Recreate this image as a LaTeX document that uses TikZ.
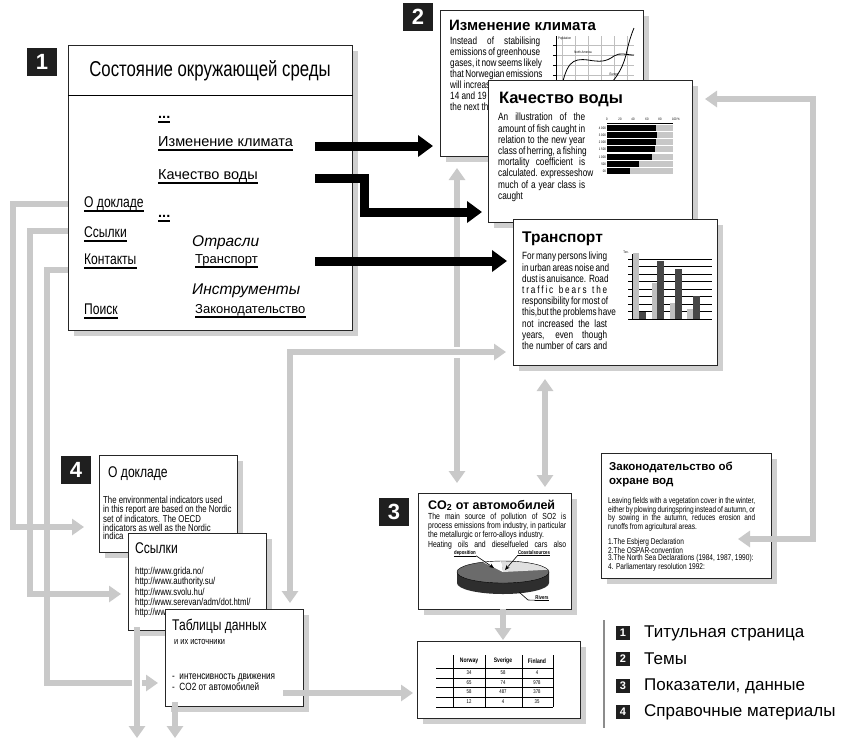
\documentclass[tikz,border=0pt]{standalone}
\usepackage{fontspec}
\setmainfont{Liberation Sans}
\newfontfamily\cnd{Liberation Sans}[FakeStretch=0.78]
\usetikzlibrary{arrows.meta,shadows}
\definecolor{gline}{HTML}{C9C9C9}
\definecolor{shd}{HTML}{CFCFCF}
\newlength\jw
\newcommand\jl[1]{\makebox[\jw][s]{#1}}
\newcommand\fs[2]{\fontsize{#1}{#2}\selectfont}
\newcommand\undl[1]{\draw[line width=1.8pt] ([yshift=-4pt]#1.base west) -- ([yshift=-4pt]#1.base east);}
\tikzset{
  pg/.style={draw=black!85, line width=0.9pt, fill=white, anchor=north west, inner sep=0pt,
     drop shadow={shadow xshift=6pt, shadow yshift=-6pt, fill=shd, opacity=1, draw=none}},
  num/.style={fill=black!88, text=white, font=\bfseries\fs{22}{22}, minimum width=30pt, minimum height=28pt, inner sep=0pt},
  lnum/.style={fill=black!88, text=white, font=\bfseries\fs{11}{11}, minimum width=14pt, minimum height=14pt, inner sep=0pt},
  gl/.style={draw=gline, line width=6.5pt},
  ga/.style={gl, -{Triangle[width=16pt,length=12pt]}},
  gaa/.style={gl, {Triangle[width=16pt,length=12pt]}-{Triangle[width=16pt,length=12pt]}},
  ba/.style={draw=black, line width=9pt, -{Triangle[width=21pt,length=15pt]}},
  tx/.style={anchor=north west, inner sep=0pt, align=left},
  it/.style={anchor=base west, inner sep=0pt},
  small/.style={inner sep=0pt, font=\cnd\fs{3.5}{3.5}},
}
\begin{document}
\begin{tikzpicture}[x=1pt,y=-1pt]
\useasboundingbox (0,0) rectangle (846,740);
\fill[white] (0,0) rectangle (846,740);

% ===== number squares
\node[num] (n1) at (42,62) {1};
\node[num] (n2) at (418,17) {2};
\node[num] (n3) at (394,512) {3};
\node[num] (n4) at (76,470) {4};

% ===== box 1
\node[pg, minimum width=284pt, minimum height=285pt] (b1) at (68,45) {};
\draw[line width=0.8pt] (b1.west |- 0,95) -- (b1.east |- 0,95);
\node[inner sep=0pt, font=\cnd\fs{21.5}{21.5}] (t1) at (210,71) {Состояние окружающей среды};
\node[it,font=\bfseries\fs{14.5}{15}] (m0) at (158,118) {...};
\node[it,font=\fs{14.5}{15}] (m1) at (158,146) {Изменение климата};
\node[it,font=\fs{14.5}{15}] (m2) at (158,179) {Качество воды};
\node[it,font=\cnd\fs{15.5}{15}] (m3) at (84,207) {О докладе};
\node[it,font=\bfseries\fs{14.5}{15}] (m4) at (158,217) {...};
\node[it,font=\cnd\fs{15.5}{15}] (m5) at (84,237) {Ссылки};
\node[it,font=\itshape\fs{15.5}{16}] (m6) at (192,246) {Отрасли};
\node[it,font=\cnd\fs{15.5}{15}] (m7) at (84,264) {Контакты};
\node[it,font=\fs{13}{13}] (m8) at (195,263) {Транспорт};
\node[it,font=\itshape\fs{15.5}{16}] (m9) at (192,294) {Инструменты};
\node[it,font=\cnd\fs{15.5}{15}] (m10) at (84,314) {Поиск};
\node[it,font=\fs{13}{13}] (m11) at (195,313) {Законодательство};
\undl{m0}\undl{m1}\undl{m2}\undl{m3}\undl{m4}\undl{m5}\undl{m7}\undl{m8}\undl{m10}\undl{m11}

% ===== climate box
\node[pg, minimum width=203pt, minimum height=146pt] (b2c) at (440,10) {};
\node[it, font=\bfseries\fs{15}{15}] (t2c) at (449,30) {Изменение климата};
\setlength\jw{90pt}
\node[tx, font=\cnd\fs{10.5}{10.9}] (x2c) at (450,37) {\jl{Instead of stabilising}\\\jl{emissions of greenhouse}\\\jl{gases, it now seems likely}\\\jl{that Norwegian emissions}\\will increas\\14 and 19 p\\the next thr};
\foreach \xx in {562,575,588,601,614,627} \draw[black!25, line width=0.4pt] (\xx,36) -- (\xx,95);
\foreach \yy in {45,55,65,75,85} \draw[black!25, line width=0.4pt] (556,\yy) -- (634,\yy);
\draw[line width=0.7pt] (556,36) -- (556,95);
\foreach \yy in {45,55,65,75,85} \draw[line width=0.4pt] (553,\yy) -- (556,\yy);
\node[small, anchor=north west] (ch1) at (558,37) {Population};
\draw[line width=0.8pt] (560,95) .. controls (566,62) and (572,58) .. (588,60) .. controls (600,62) and (606,62) .. (614,56) .. controls (620,52) and (626,55) .. (634,55);
\draw[line width=0.8pt] (598,95) .. controls (615,82) and (622,70) .. (626,55) .. controls (628,45) and (631,35) .. (634,28);
\node[small] (ch2) at (583,52) {North America};
\node[small] (ch3) at (614,75) {Europe};

% ===== water box
\node[pg, minimum width=204pt, minimum height=142pt] (b2w) at (488,80) {};
\node[it, font=\bfseries\fs{16.5}{16.5}] (t2w) at (499,103) {Качество воды};
\setlength\jw{87pt}
\node[tx, font=\cnd\fs{10.6}{11.2}] (x2w) at (498,113) {\jl{An illustration of the}\\\jl{amount of fish caught in}\\\jl{relation to the new year}\\\jl{class of herring, a fishing}\\\jl{mortality coefficient is}\\\jl{calculated. expresseshow}\\\jl{much of a year class is}\\caught};
\foreach \yy/\xe in {128/656,135/657,142/656,149/655,157/652,164/639,171/630} {
  \fill[black!22] (607,\yy-2.6) rectangle (673,\yy+2.6);
  \fill[black] (607,\yy-2.6) rectangle (\xe,\yy+2.6);
}
\draw[line width=0.7pt] (607,123) -- (673,123);
\foreach \xx/\lb in {607/0,620/20,633/40,647/60,660/80} \node[small] at (\xx,119) {\lb};
\node[small] (pc1) at (676,119) {100 \%};
\foreach \yy/\lb in {128/4 000,135/3 000,142/2 000,149/1 500,157/1 000,164/500,171/00} \node[small, anchor=east] at (606,\yy) {\lb};

% ===== transport box
\node[pg, minimum width=204pt, minimum height=146pt] (b2t) at (513,219) {};
\node[it, font=\bfseries\fs{15.5}{15.5}] (t2t) at (522,242) {Транспорт};
\setlength\jw{85pt}
\node[tx, font=\cnd\fs{10.5}{11.2}] (x2t) at (522,252) {\jl{For many persons living}\\\jl{in urban areas noise and}\\\jl{dust is anuisance. Road}\\\jl{t r a f f i c \ \ b e a r s \ \ t h e}\\\jl{responsibility for most of}\\\jl{this,but the problems have}\\\jl{not increased the last}\\\jl{years, even though}\\\jl{the number of cars and}};
\foreach \yy in {259,266.5,274,281.5,289,296.5,304,311.5,319} {
  \draw[line width=0.5pt] (632,\yy) -- (712,\yy);
  \draw[line width=0.4pt] (628,\yy) -- (632,\yy);
}
\fill[black!25] (633,253) rectangle (639,319);
\fill[black!72] (639,312) rectangle (646,319);
\fill[black!25] (652,283) rectangle (657,319);
\fill[black!72] (657,261) rectangle (664,319);
\fill[black!25] (670,303) rectangle (675,319);
\fill[black!72] (675,269) rectangle (682,319);
\fill[black!25] (687,309) rectangle (693,319);
\fill[black!72] (693,296) rectangle (700,319);
\draw[line width=0.8pt] (632,254) -- (632,320);
\node[small] (tn) at (626,252) {Ton.};

% ===== CO2 box
\node[pg, minimum width=153pt, minimum height=116pt] (b3) at (418,493) {};
\node[it, font=\bfseries\fs{12.5}{12.5}] (t3) at (428,509) {CO\textsubscript{2} от автомобилей};
\setlength\jw{138pt}
\node[tx, font=\cnd\fs{8.8}{8.2}] (x3) at (428,513) {\jl{The main source of pollution of SO2 is}\\\jl{process emissions from industry, in particular}\\the metallurgic or ferro-alloys industry.\\\jl{Heating oils and dieselfueled cars also}};
\coordinate (pc) at (503,572);
\fill[black!82] ([xshift=-46pt]pc) -- ++(0,11) arc[start angle=180, end angle=360, x radius=46pt, y radius=11pt] -- ++(0,-11) -- cycle;
\fill[black!58] (pc) ellipse[x radius=46pt, y radius=11pt];
\fill[black!12] (pc) -- ([shift={(12:46pt and 11pt)}]pc) arc[start angle=12, end angle=92, x radius=46pt, y radius=11pt] -- cycle;
\fill[white] (pc) -- ([shift={(92:46pt and 11pt)}]pc) arc[start angle=92, end angle=116, x radius=46pt, y radius=11pt] -- cycle;
\draw[line width=0.4pt] (pc) ellipse[x radius=46pt, y radius=11pt];
\node[inner sep=0pt, font=\bfseries\cnd\fs{5.5}{5.5}] (dep) at (465,553) {deposition};
\node[inner sep=0pt, font=\bfseries\cnd\fs{5.5}{5.5}] (cst) at (534,553) {Coastalsources};
\node[inner sep=0pt, font=\bfseries\cnd\fs{5.5}{5.5}] (riv) at (542,598) {Rivers};
\draw[line width=0.5pt] (dep.south west) -- (dep.south east);
\draw[line width=0.5pt] (cst.south west) -- (cst.south east);
\draw[line width=0.5pt] (riv.south west) -- (riv.south east);
\draw[line width=0.6pt, -{Stealth[length=5pt,width=4pt]}] (dep.south east) -- (494,568);
\draw[line width=0.6pt, -{Stealth[length=5pt,width=4pt]}] (cst.south west) -- (505,570);
\draw[line width=0.6pt] (riv.south west) -- (528,600) -- (519,592);

% ===== legislation box
\node[pg, minimum width=170pt, minimum height=125pt] (b5) at (601,453) {};
\node[tx, font=\bfseries\fs{11.5}{14}] (t5) at (609,462) {Законодательство об\\охране вод};
\setlength\jw{147pt}
\node[tx, font=\cnd\fs{8.4}{7.8}] (x5) at (608,497) {\jl{Leaving fields with a vegetation cover in the winter,}\\\jl{either by plowing duringspring instead of autumn, or}\\\jl{by sowing in the autumn, reduces erosion and}\\runoffs from agricultural areas.};
\node[tx, font=\cnd\fs{8.4}{7.8}] (y5) at (608,538) {1.The Esbjerg Declaration\\2.The OSPAR-convention\\3.The North Sea Declarations (1984, 1987, 1990):\\4. Parliamentary resolution 1992:};

% ===== box 4 stack
\node[pg, minimum width=138pt, minimum height=97pt] (b4a) at (99,455) {};
\node[it, font=\cnd\fs{15.5}{15}] (t4a) at (108,477) {О докладе};
\node[tx, font=\cnd\fs{10}{8.7}] (x4a) at (103,496) {The environmental indicators used\\in this report are based on the Nordic\\set of indicators. The OECD\\indicators as well as the Nordic\\indica};
\node[pg, minimum width=138pt, minimum height=97pt] (b4b) at (128,533) {};
\node[it, font=\cnd\fs{15.5}{15}] (t4b) at (135,553) {Ссылки};
\node[tx, font=\cnd\fs{10}{8.8}] (x4b) at (135,567) {http://www.grida.no/\\http://www.authority.su/\\http://www.svolu.hu/\\http://www.serevan/adm/dot.html/\\http://ww};
\node[pg, minimum width=138pt, minimum height=97pt] (b4c) at (165,609) {};
\node[it, font=\cnd\fs{15.5}{15}] (t4c) at (172,630) {Таблицы данных};
\node[it, font=\cnd\fs{9.5}{9.5}] (s4c) at (174,644) {и их источники};
\node[it, font=\cnd\fs{10.5}{10.5}] (i4c1) at (172,679) {-\ \ интенсивность движения};
\node[it, font=\cnd\fs{10.5}{10.5}] (i4c2) at (172,690) {-\ \ CO2 от автомобилей};

% ===== table box
\node[pg, minimum width=163pt, minimum height=77pt] (tb) at (417,641) {};
\foreach \xx in {453,485,522,553} \draw[line width=0.6pt] (\xx,655) -- (\xx,707);
\foreach \yy in {668,678,687,697,707} \draw[line width=0.6pt] (436,\yy) -- (553,\yy);
\node[inner sep=0pt, font=\bfseries\cnd\fs{6.5}{6.5}] (h1) at (469,661) {Norway};
\node[inner sep=0pt, font=\bfseries\cnd\fs{6.5}{6.5}] (h2) at (503,661) {Sverige};
\node[inner sep=0pt, font=\bfseries\cnd\fs{6.5}{6.5}] (h3) at (537,661) {Finland};
\foreach \yy/\a/\b/\c in {673/34/58/4, 682.5/65/74/978, 692/58/487/378, 702/12/4/35} {
  \node[inner sep=0pt, font=\cnd\fs{5.5}{5.5}] at (469,\yy) {\a};
  \node[inner sep=0pt, font=\cnd\fs{5.5}{5.5}] at (503,\yy) {\b};
  \node[inner sep=0pt, font=\cnd\fs{5.5}{5.5}] at (537,\yy) {\c};
}

% ===== legend
\coordinate (lgt) at (604,620); \coordinate (lgb) at (604,728);
\draw[black!45, line width=2.5pt] (lgt) -- (lgb);
\node[lnum] (l1) at (623,633) {1};
\node[lnum] (l2) at (623,659) {2};
\node[lnum] (l3) at (623,686) {3};
\node[lnum] (l4) at (623,712) {4};
\node[anchor=west, inner sep=0pt, font=\fs{17}{17}] (lt1) at (644,633) {Титульная страница};
\node[anchor=west, inner sep=0pt, font=\fs{17}{17}] (lt2) at (644,659) {Темы};
\node[anchor=west, inner sep=0pt, font=\fs{17}{17}] (lt3) at (644,686) {Показатели, данные};
\node[anchor=west, inner sep=0pt, font=\fs{17}{17}] (lt4) at (644,712) {Справочные материалы};

% ===== grey connectors
\coordinate (g1s) at (68,204);  \coordinate (g1e) at (84,527);
\draw[ga] (g1s) -- (13,204) -- (13,527) -- (g1e);
\coordinate (g2s) at (68,231);  \coordinate (g2e) at (121,594);
\draw[ga] (g2s) -- (30,231) -- (30,594) -- (g2e);
\coordinate (g3s) at (68,270);  \coordinate (g3e) at (158,683);
\draw[ga] (g3s) -- (47,270) -- (47,683) -- (g3e);
\draw[white, line width=10pt] (137,645) -- (137,725);
\coordinate (d1s) at (137,627); \coordinate (d1e) at (137,738);
\draw[ga] (d1s) -- (d1e);
\coordinate (d2s) at (175,702); \coordinate (d2e) at (175,738);
\draw[ga] (d2s) -- (d2e);
\coordinate (ts) at (283,693); \coordinate (te) at (413,693);
\draw[ga] (ts) -- (te);
\coordinate (v1s) at (457,168); \coordinate (v1e) at (457,483);
\draw[gaa] (v1s) -- (v1e);
\draw[white, line width=11pt] (445,352) -- (469,352);
\coordinate (es) at (290,603); \coordinate (ee) at (506,352);
\draw[gaa] (es) -- (290,352) -- (ee);
\coordinate (v2s) at (545,379); \coordinate (v2e) at (545,487);
\draw[gaa] (v2s) -- (v2e);
\coordinate (cs) at (503,609); \coordinate (ce) at (503,640);
\draw[ga] (cs) -- (ce);
\coordinate (rs) at (705,99); \coordinate (re) at (738,539);
\draw[gaa] (rs) -- (813,99) -- (813,539) -- (re);

% ===== black arrows
\coordinate (k1s) at (315,146); \coordinate (k1e) at (433,146);
\draw[ba] (k1s) -- (k1e);
\coordinate (k2s) at (315,178); \coordinate (k2e) at (482,212);
\draw[ba] (k2s) -- (364,178) -- (364,212) -- (k2e);
\coordinate (k3s) at (315,261); \coordinate (k3e) at (507,261);
\draw[ba] (k3s) -- (k3e);
\end{tikzpicture}
\end{document}
